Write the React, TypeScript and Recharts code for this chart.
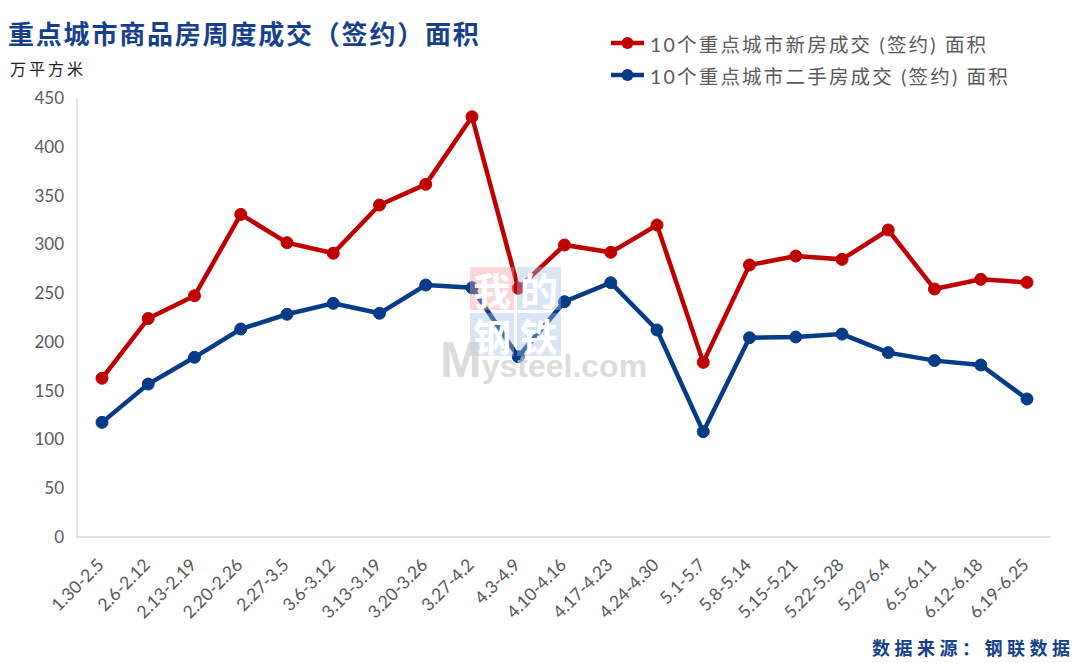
import React from 'react';
import { LineChart, Line, XAxis, YAxis, Legend } from 'recharts';

const categories = [
  '1.30-2.5', '2.6-2.12', '2.13-2.19', '2.20-2.26', '2.27-3.5', '3.6-3.12', '3.13-3.19',
  '3.20-3.26', '3.27-4.2', '4.3-4.9', '4.10-4.16', '4.17-4.23', '4.24-4.30', '5.1-5.7',
  '5.8-5.14', '5.15-5.21', '5.22-5.28', '5.29-6.4', '6.5-6.11', '6.12-6.18', '6.19-6.25',
];
const newHouse = [162.7, 224, 247.3, 330.7, 301.7, 290.8, 340.3, 361.5, 430.8, 254.9, 299.3, 291.8, 319.8, 179, 278.8, 288, 284.6, 314.7, 254.2, 264.1, 261];
const secondHand = [117.5, 156.8, 184.2, 213.2, 228.3, 239.5, 229.3, 258.3, 255.5, 184.8, 241.2, 260.7, 212.2, 108, 204.3, 205, 208, 189, 180.8, 176.3, 141.5];
const yTicks = [0, 50, 100, 150, 200, 250, 300, 350, 400, 450];
const seriesNames = ['10个重点城市新房成交 (签约) 面积', '10个重点城市二手房成交 (签约) 面积'];
const title = '重点城市商品房周度成交（签约）面积';
const unit = '万平方米';
const source = '数据来源：钢联数据';

const RED = '#c00000';
const BLUE = '#053b87';
const TEXT = '#595959';
const NUM_FONT = "Lato, 'Noto Sans CJK SC', sans-serif";
const CJK_FONT = "'Noto Sans CJK SC', sans-serif";

const data = categories.map((c, i) => ({ cat: c, nh: newHouse[i], sh: secondHand[i] }));

const XTick = (props: any) => {
  const { x, y, payload } = props;
  const tx = x + 3;
  const ty = y + 21;
  return (
    <text x={tx} y={ty} transform={`rotate(-45 ${tx} ${ty})`} textAnchor="end" fill={TEXT} fontSize={17.5} fontFamily={NUM_FONT}>
      {payload.value}
    </text>
  );
};

const renderLegend = (props: any) => {
  const payload = [...(props.payload || [])].sort(
    (a: any, b: any) => seriesNames.indexOf(a.value) - seriesNames.indexOf(b.value)
  );
  return (
    <div>
      {payload.map((p: any, i: number) => (
        <div key={i} style={{ display: 'flex', alignItems: 'center', height: 32 }}>
          <svg width={44} height={16} style={{ flex: 'none' }}>
            <line x1={5} y1={8} x2={38} y2={8} stroke={p.color} strokeWidth={4.5} />
            <circle cx={21.5} cy={8} r={6} fill={p.color} />
          </svg>
          <span style={{ fontFamily: NUM_FONT, fontSize: 19.5, color: TEXT, letterSpacing: 2.2, whiteSpace: 'nowrap' }}>{p.value}</span>
        </div>
      ))}
    </div>
  );
};

const sq = (bg: string) => ({
  position: 'absolute' as const, width: 44, height: 43, background: bg, color: '#fff',
  fontFamily: CJK_FONT, fontWeight: 700, fontSize: 38, lineHeight: '43px', textAlign: 'center' as const,
});

export default function App() {
  return (
    <div style={{ position: 'absolute', left: 0, top: 0, width: 1083, height: 663, background: '#fff', overflow: 'hidden' }}>
      <div style={{ position: 'absolute', left: 8, top: 14, fontFamily: CJK_FONT, fontWeight: 700, fontSize: 26, letterSpacing: 1.8, color: '#17408c', whiteSpace: 'nowrap' }}>{title}</div>
      <div style={{ position: 'absolute', left: 10, top: 56, fontFamily: CJK_FONT, fontSize: 16, letterSpacing: 3, color: '#222', whiteSpace: 'nowrap' }}>{unit}</div>
      <LineChart width={1083} height={663} data={data} margin={{ top: 98, right: 32, bottom: 36, left: 0 }}>
        <XAxis dataKey="cat" interval={0} tickLine={false} axisLine={{ stroke: '#d9d9d9', strokeWidth: 1.5 }} tick={<XTick />} height={90} padding={{ left: 25, right: 24 }} />
        <YAxis domain={[0, 450]} ticks={yTicks} width={77} tickLine={false} tickSize={0} tickMargin={13} axisLine={{ stroke: '#d9d9d9', strokeWidth: 1.5 }} tick={{ fill: TEXT, fontSize: 17, fontFamily: NUM_FONT }} interval={0} />
        <Legend layout="horizontal" verticalAlign="middle" align="center" content={renderLegend} wrapperStyle={{ top: 27, left: 606, width: 470, height: 64 }} />
        <Line type="linear" dataKey="nh" name={seriesNames[0]} stroke={RED} strokeWidth={4.5} dot={{ r: 6, fill: RED, stroke: RED, strokeWidth: 1 }} activeDot={false} isAnimationActive={false} />
        <Line type="linear" dataKey="sh" name={seriesNames[1]} stroke={BLUE} strokeWidth={4.5} dot={{ r: 6, fill: BLUE, stroke: BLUE, strokeWidth: 1 }} activeDot={false} isAnimationActive={false} />
      </LineChart>
      <div style={{ ...sq('rgba(240,160,170,0.42)'), left: 470, top: 267 }}>我</div>
      <div style={{ ...sq('rgba(160,190,225,0.4)'), left: 517, top: 267 }}>的</div>
      <div style={{ ...sq('rgba(160,190,225,0.4)'), left: 470, top: 313 }}>钢</div>
      <div style={{ ...sq('rgba(160,190,225,0.4)'), left: 517, top: 313 }}>铁</div>
      <div style={{ position: 'absolute', left: 440, top: 330, fontFamily: "'Liberation Sans', Arial, sans-serif", fontWeight: 700, color: 'rgba(205,205,205,0.7)', whiteSpace: 'nowrap', lineHeight: '60px' }}>
        <span style={{ fontSize: 50 }}>M</span><span style={{ fontSize: 32 }}>ysteel.com</span>
      </div>
      <div style={{ position: 'absolute', left: 872, top: 634, fontFamily: CJK_FONT, fontWeight: 700, fontSize: 18, letterSpacing: 4.5, color: '#17408c', whiteSpace: 'nowrap' }}>{source}</div>
    </div>
  );
}
